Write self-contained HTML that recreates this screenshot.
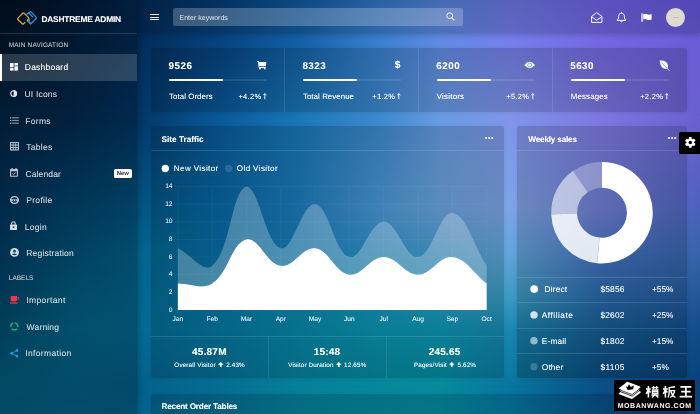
<!DOCTYPE html>
<html lang="en"><head><meta charset="utf-8"><title>Dashtreme Admin</title>
<style>
*{box-sizing:border-box;margin:0;padding:0}
html,body{width:700px;height:414px;overflow:hidden}
body{font-family:"Liberation Sans",sans-serif;color:#fff;position:relative;background:#0a4f85;-webkit-font-smoothing:antialiased;text-rendering:geometricPrecision}
.abs{position:absolute}
.bgl{position:absolute;left:0;top:0;width:700px;height:414px}
.t{position:absolute;white-space:nowrap;line-height:1;text-shadow:0 0 .6px rgba(255,255,255,.45)}
.b{font-weight:bold}
#sidebar{position:absolute;left:0;top:0;width:136.5px;height:414px;background:rgba(0,0,0,.23);box-shadow:0 0 7px rgba(0,0,0,.35)}
#topbar{position:absolute;left:136.5px;top:0;width:563.5px;height:33px;background:rgba(0,0,0,.16);box-shadow:0 2px 5px rgba(0,0,0,.18)}
.card{position:absolute;background:rgba(0,0,0,.155);border-radius:2px;box-shadow:0 1px 4px rgba(0,0,0,.08)}
.hl{position:absolute;height:1px;background:rgba(255,255,255,.12)}
.vl{position:absolute;width:1px;background:rgba(255,255,255,.10)}
.mi{font-size:8.5px;color:rgba(255,255,255,.68);left:26px;letter-spacing:.1px}
.sh{font-size:6.5px;color:rgba(255,255,255,.55);left:8.8px;letter-spacing:.15px}
.ic{position:absolute;overflow:visible}
.num{font-size:9.8px;font-weight:bold;letter-spacing:.52px;margin-left:-.5px}
.lab{font-size:7.8px;letter-spacing:.1px}
.pct{font-size:7.5px;letter-spacing:.3px}
.pb{position:absolute;height:1.8px;width:98px;background:rgba(255,255,255,.1);border-radius:1px}
.pb i{display:block;height:100%;width:55%;background:#fff;border-radius:1px}
.yl{font-size:6.6px;width:20px;left:152.5px;text-align:right;color:rgba(255,255,255,.85)}
.xl{font-size:6.6px;width:40px;text-align:center;top:316.7px;color:rgba(255,255,255,.85)}
.fn{font-size:10px;font-weight:bold;width:118px;text-align:center;letter-spacing:.2px}
.fs{font-size:6.3px;width:118px;text-align:center;letter-spacing:.15px}
.wr{font-size:8.3px;letter-spacing:.15px}
</style></head><body>
<div class="bgl" style="background:linear-gradient(to right,rgb(3,18,35) 0px,rgb(3,26,55) 70px,rgb(3,40,82) 137px,rgb(6,60,115) 220px,rgb(18,88,155) 300px,rgb(52,118,196) 380px,rgb(82,128,214) 440px,rgb(106,118,226) 510px,rgb(110,97,226) 600px,rgb(99,86,216) 700px)"></div>
<div class="bgl" style="background:linear-gradient(to right,rgb(2,25,46) 0px,rgb(3,32,62) 70px,rgb(3,44,88) 137px,rgb(7,67,126) 220px,rgb(21,96,165) 300px,rgb(58,128,206) 380px,rgb(97,138,226) 440px,rgb(117,127,234) 510px,rgb(116,104,226) 600px,rgb(106,92,214) 700px);-webkit-mask-image:linear-gradient(to bottom,transparent 0px,#000 41px);mask-image:linear-gradient(to bottom,transparent 0px,#000 41px)"></div>
<div class="bgl" style="background:linear-gradient(to right,rgb(3,39,72) 0px,rgb(3,44,81) 70px,rgb(2,55,103) 137px,rgb(10,90,154) 220px,rgb(26,120,184) 300px,rgb(62,138,206) 380px,rgb(104,156,226) 440px,rgb(128,150,234) 510px,rgb(126,120,224) 600px,rgb(106,96,207) 700px);-webkit-mask-image:linear-gradient(to bottom,transparent 41px,#000 120px);mask-image:linear-gradient(to bottom,transparent 41px,#000 120px)"></div>
<div class="bgl" style="background:linear-gradient(to right,rgb(3,55,97) 0px,rgb(3,72,115) 70px,rgb(3,86,130) 137px,rgb(8,105,165) 220px,rgb(30,125,190) 300px,rgb(76,154,215) 380px,rgb(108,166,225) 440px,rgb(126,165,230) 510px,rgb(112,128,212) 600px,rgb(75,98,188) 700px);-webkit-mask-image:linear-gradient(to bottom,transparent 120px,#000 210px);mask-image:linear-gradient(to bottom,transparent 120px,#000 210px)"></div>
<div class="bgl" style="background:linear-gradient(to right,rgb(3,65,105) 0px,rgb(3,85,125) 70px,rgb(3,101,143) 137px,rgb(8,112,165) 220px,rgb(22,130,184) 300px,rgb(48,150,203) 380px,rgb(72,160,212) 440px,rgb(98,166,216) 510px,rgb(70,116,192) 600px,rgb(54,100,168) 700px);-webkit-mask-image:linear-gradient(to bottom,transparent 210px,#000 255px);mask-image:linear-gradient(to bottom,transparent 210px,#000 255px)"></div>
<div class="bgl" style="background:linear-gradient(to right,rgb(3,75,112) 0px,rgb(3,98,135) 70px,rgb(4,104,147) 137px,rgb(8,118,165) 220px,rgb(14,135,178) 300px,rgb(25,148,190) 380px,rgb(40,155,195) 440px,rgb(58,154,191) 510px,rgb(40,105,170) 600px,rgb(35,85,150) 700px);-webkit-mask-image:linear-gradient(to bottom,transparent 255px,#000 300px);mask-image:linear-gradient(to bottom,transparent 255px,#000 300px)"></div>
<div class="bgl" style="background:linear-gradient(to right,rgb(3,83,117) 0px,rgb(3,103,140) 70px,rgb(5,106,149) 137px,rgb(6,120,162) 220px,rgb(8,136,168) 300px,rgb(11,150,176) 380px,rgb(12,152,181) 440px,rgb(26,136,176) 510px,rgb(24,96,153) 600px,rgb(18,76,138) 700px);-webkit-mask-image:linear-gradient(to bottom,transparent 300px,#000 330px);mask-image:linear-gradient(to bottom,transparent 300px,#000 330px)"></div>
<div class="bgl" style="background:linear-gradient(to right,rgb(3,96,132) 0px,rgb(3,100,138) 70px,rgb(4,96,138) 137px,rgb(5,110,145) 220px,rgb(6,128,154) 300px,rgb(6,135,156) 380px,rgb(6,138,156) 440px,rgb(8,118,158) 510px,rgb(10,79,133) 600px,rgb(8,66,120) 700px);-webkit-mask-image:linear-gradient(to bottom,transparent 330px,#000 386px);mask-image:linear-gradient(to bottom,transparent 330px,#000 386px)"></div>
<div class="bgl" style="background:linear-gradient(to right,rgb(3,97,133) 0px,rgb(3,101,139) 70px,rgb(4,100,142) 137px,rgb(5,112,147) 220px,rgb(6,130,156) 300px,rgb(6,137,158) 380px,rgb(6,140,158) 440px,rgb(8,122,168) 510px,rgb(10,82,138) 600px,rgb(8,66,120) 700px);-webkit-mask-image:linear-gradient(to bottom,transparent 386px,#000 414px);mask-image:linear-gradient(to bottom,transparent 386px,#000 414px)"></div>
<div id="wrap" style="position:absolute;left:0;top:0;width:700px;height:414px;will-change:transform">
<!-- ================= SIDEBAR ================= -->
<div id="sidebar">
  <div class="hl" style="left:0;top:33px;width:136.5px;background:rgba(255,255,255,.13)"></div>
  <svg class="ic" style="left:16px;top:10.7px" width="22" height="16" viewBox="0 0 22 16"><g fill="none" stroke-width="1.3" stroke-linejoin="round" stroke-linecap="round"><path d="M8.2 2.2 L12.6 6.6 Q13.3 7.3 12.6 8 L11.2 9.4 L14.6 12.8 M8.2 2.2 Q7.5 1.5 6.8 2.2 L1.9 7.1 Q1.2 7.8 1.9 8.5 L6.2 12.8 Q6.9 13.5 7.6 12.8 L9 11.4" stroke="#e0a243"/><path d="M12.4 1.6 L16.8 6 M10 4 L13.6 0.9 Q14.3 0.3 15 1 L20.1 6.1 Q20.8 6.8 20.1 7.5 L15.6 12 Q14.9 12.7 14.2 12 L12.4 10.2 L13.8 8.8" stroke="#2d8fd6"/></g></svg>
  <div class="t b" style="left:41.4px;top:14.95px;font-size:8.4px;letter-spacing:-.2px">DASHTREME ADMIN</div>
  <div class="t sh" style="top:43.05px">MAIN NAVIGATION</div>
  <div class="abs" style="left:0;top:54px;width:136.5px;height:27px;background:rgba(255,255,255,.16);border-left:2.5px solid #fff"></div>
  <div class="t mi" style="top:62.95px;left:24.8px;letter-spacing:0.22px;color:#fff">Dashboard</div>
  <div class="t mi" style="top:89.95px;left:24.4px;letter-spacing:0.21px">UI Icons</div>
  <div class="t mi" style="top:116.95px;left:25.2px;letter-spacing:0.33px">Forms</div>
  <div class="t mi" style="top:142.95px;left:26.3px;letter-spacing:0.29px">Tables</div>
  <div class="t mi" style="top:169.95px;left:25.4px;letter-spacing:0.15px">Calendar</div>
  <div class="t mi" style="top:195.95px;left:26.2px;letter-spacing:0.33px">Profile</div>
  <div class="t mi" style="top:222.95px;left:24.8px;letter-spacing:0.27px">Login</div>
  <div class="t mi" style="top:248.95px;left:26.2px;letter-spacing:0.20px">Registration</div>
  <div class="t sh" style="top:275.95px;letter-spacing:0">LABELS</div>
  <div class="t mi" style="top:296.45px;left:26.2px;letter-spacing:0.40px">Important</div>
  <div class="t mi" style="top:322.95px;left:26.6px;letter-spacing:0.18px">Warning</div>
  <div class="t mi" style="top:348.95px;left:25.2px;letter-spacing:0.35px">Information</div>
  <div class="abs" style="left:114.1px;top:169.1px;width:17.8px;height:9.2px;background:#fff;border-radius:1.6px"></div>
  <div class="t b" style="left:114px;width:17.8px;text-align:center;top:172.2px;font-size:5.9px;color:#2a2d3a;text-shadow:none">New</div>
  <!-- icons -->
  <svg class="ic" style="left:10.4px;top:62.9px" width="8" height="7.6" viewBox="0 0 8 7.6" fill="#fff"><rect x="0" y="0" width="3.6" height="4.3"/><rect x="4.4" y="0" width="3.6" height="2.5"/><rect x="0" y="5.1" width="3.6" height="2.5"/><rect x="4.4" y="3.3" width="3.6" height="4.3"/></svg>
  <svg class="ic" style="left:10.2px;top:90.2px" width="7.2" height="7.2" viewBox="0 0 7.2 7.2"><circle cx="3.6" cy="3.6" r="2.85" fill="none" stroke="#dfe5ec" stroke-width="1.2"/><path d="M3.6 .2 A3.4 3.4 0 0 1 3.6 7 Z" fill="#dfe5ec"/></svg>
  <svg class="ic" style="left:10.2px;top:117px" width="9" height="7" viewBox="0 0 9 7" fill="rgba(255,255,255,.5)"><rect x="0" y=".2" width="1.3" height="1.2" fill="rgba(255,255,255,.7)"/><rect x="2.1" y=".2" width="6.7" height="1.2"/><rect x="0" y="2.9" width="1.3" height="1.2" fill="rgba(255,255,255,.7)"/><rect x="2.1" y="2.9" width="6.7" height="1.2"/><rect x="0" y="5.6" width="1.3" height="1.2" fill="rgba(255,255,255,.7)"/><rect x="2.1" y="5.6" width="6.7" height="1.2"/></svg>
  <svg class="ic" style="left:10.1px;top:142.1px" width="9" height="8.4" viewBox="0 0 9 8.4"><path fill-rule="evenodd" fill="rgba(255,255,255,.7)" d="M0 0H9V8.4H0Z M1.1 1.1V2.5H2.8V1.1Z M3.7 1.1V2.5H5.3V1.1Z M6.2 1.1V2.5H7.9V1.1Z M1.1 3.5V4.9H2.8V3.5Z M3.7 3.5V4.9H5.3V3.5Z M6.2 3.5V4.9H7.9V3.5Z M1.1 5.9V7.3H2.8V5.9Z M3.7 5.9V7.3H5.3V5.9Z M6.2 5.9V7.3H7.9V5.9Z"/></svg>
  <svg class="ic" style="left:10.3px;top:168.2px" width="8" height="8.8" viewBox="0 0 8 8.8"><path fill-rule="evenodd" fill="rgba(255,255,255,.74)" d="M1.4 0H2.6V.9H5.4V0H6.6V.9H7.2Q8 .9 8 1.7V8Q8 8.8 7.2 8.8H.8Q0 8.8 0 8V1.7Q0 .9 .8 .9H1.4Z M1.1 3.3V7.7H6.9V3.3Z"/><path d="M2.3 5.7L3.5 6.7L5.8 4.4" stroke="rgba(255,255,255,.74)" stroke-width=".9" fill="none"/></svg>
  <svg class="ic" style="left:10.1px;top:195.6px" width="9" height="8" viewBox="0 0 9 8"><path fill-rule="evenodd" fill="rgba(255,255,255,.78)" d="M4.5 0C7.2 0 9 1.7 9 4S7.2 8 4.5 8S0 6.3 0 4S1.8 0 4.5 0Z M4.5 1.3C2.6 1.3 1.5 2.2 1.4 3.2H7.6C7.5 2.2 6.4 1.3 4.5 1.3Z M1.5 5.2C1.9 6.1 3 6.7 4.5 6.7S7.1 6.1 7.5 5.2Z"/><circle cx="3.2" cy="4.2" r=".75" fill="#023a5c"/><circle cx="5.8" cy="4.2" r=".75" fill="#023a5c"/></svg>
  <svg class="ic" style="left:10.1px;top:221.3px" width="7" height="9" viewBox="0 0 7 9"><rect x="0" y="3.4" width="7" height="5.6" rx=".7" fill="rgba(255,255,255,.85)"/><path d="M1.7 3.6V2.5A1.8 1.8 0 0 1 5.3 2.5V3.6" stroke="rgba(255,255,255,.85)" stroke-width="1.1" fill="none"/><circle cx="3.5" cy="6.2" r=".85" fill="#02405f"/></svg>
  <svg class="ic" style="left:10.1px;top:248.2px" width="9" height="8.8" viewBox="0 0 9 9" preserveAspectRatio="none"><circle cx="4.5" cy="4.5" r="4.4" fill="rgba(255,255,255,.82)"/><circle cx="4.5" cy="3.2" r="1.35" fill="#024868"/><path d="M1.9 6.4 Q4.5 4.6 7.1 6.4 Q4.5 8.6 1.9 6.4Z" fill="#024868"/></svg>
  <svg class="ic" style="left:10.3px;top:296px" width="8.8" height="7.7" viewBox="0 0 8.8 7.7" fill="#f0364d"><path d="M.7 0H7V.9H8.8V3.5H7V4.1Q7 5.5 5.6 5.5H2.1Q.7 5.5 .7 4.1Z M7 1.6V2.9H8V1.6Z" fill-rule="evenodd"/><rect x="0" y="6.4" width="7.6" height="1.3"/></svg>
  <svg class="ic" style="left:9.9px;top:322.1px" width="8.8" height="8.8" viewBox="0 0 9 9" fill="none" stroke="#14c46c" stroke-width="1.3"><path d="M4.5 .9 A3.6 3.6 0 0 1 8 5.3"/><path d="M7.2 6.9 A3.6 3.6 0 0 1 1.8 6.9"/><path d="M1 5.3 A3.6 3.6 0 0 1 3.3 1.1"/></svg>
  <svg class="ic" style="left:10px;top:349px" width="8.5" height="8.6" viewBox="0 0 8.5 8.6"><path d="M6.9 1.5L1.6 4.3L6.9 7.1" stroke="#2596e2" stroke-width=".9" fill="none"/><circle cx="6.9" cy="1.5" r="1.4" fill="#2596e2"/><circle cx="1.6" cy="4.3" r="1.4" fill="#2596e2"/><circle cx="6.9" cy="7.1" r="1.4" fill="#2596e2"/></svg>
</div>
<!-- ================= TOPBAR ================= -->
<div id="topbar"></div>
<div class="abs" style="left:150px;top:14px;width:8.6px;height:1.1px;background:#fff"></div>
<div class="abs" style="left:150px;top:16.6px;width:8.6px;height:1.1px;background:#fff"></div>
<div class="abs" style="left:150px;top:19.2px;width:8.6px;height:1.1px;background:#fff"></div>
<div class="abs" style="left:173.2px;top:7.6px;width:290px;height:18.2px;background:rgba(255,255,255,.225);border-radius:2px"></div>
<div class="t" style="left:179.6px;top:15.50px;font-size:6.9px;letter-spacing:.05px;color:rgba(255,255,255,.62)">Enter keywords</div>
<svg class="ic" style="left:445.5px;top:12px" width="9" height="9" viewBox="0 0 9 9" fill="none" stroke="rgba(255,255,255,.9)" stroke-width="1"><circle cx="3.7" cy="3.7" r="2.9"/><path d="M5.8 5.8L8.4 8.4" stroke-width="1.2"/></svg>
<svg class="ic" style="left:590.6px;top:12px" width="11.5" height="11" viewBox="0 0 12 11" preserveAspectRatio="none" fill="none" stroke="#fff" stroke-width="1"><path d="M.6 4.4L6 .6L11.4 4.4V10.4H.6Z"/><path d="M.8 4.8L6 8.2L11.2 4.8"/></svg>
<svg class="ic" style="left:616px;top:12px" width="11" height="11" viewBox="0 0 11 11" fill="none" stroke="#fff" stroke-width="1"><path d="M5.5 1.2C3.4 1.2 2.6 2.8 2.6 4.6C2.6 7 1.6 7.8 1 8.4H10C9.4 7.8 8.4 7 8.4 4.6C8.4 2.8 7.6 1.2 5.5 1.2Z"/><path d="M4.5 9.4Q5.5 10.6 6.5 9.4"/><path d="M5.5 .3V1.2"/></svg>
<svg class="ic" style="left:641px;top:12.6px" width="11" height="10" viewBox="0 0 11 10"><rect x=".4" y=".3" width="1.2" height="8.6" fill="#fff"/><path d="M2.2 1.2Q4 .2 6 1.2T10.6 1V6.4Q8 7.4 6 6.4T2.2 6.6Z" fill="#fff"/></svg>
<div class="abs" style="left:666.3px;top:7.7px;width:19px;height:19px;border-radius:50%;background:#dcdad1"></div>
<div class="abs" style="left:673.2px;top:16.9px;width:5.4px;height:.9px;background:#c4c1b8"></div>
<!-- ================= STAT CARD ================= -->
<div class="card" style="left:150.7px;top:47.6px;width:535.9px;height:64.4px"></div>
<div class="vl" style="left:284.2px;top:47.6px;height:64.4px"></div>
<div class="vl" style="left:418px;top:47.6px;height:64.4px"></div>
<div class="vl" style="left:552.2px;top:47.6px;height:64.4px"></div>

<div class="t num" style="left:169px;top:61.65px">9526</div>
<div class="pb" style="left:169px;top:79.2px"><i></i></div>
<div class="t lab" style="left:169px;top:92.80px">Total Orders</div>
<div class="t pct" style="right:433px;top:93.00px">+4.2%<svg width="3.6" height="6.2" viewBox="0 0 3.6 6.2" style="vertical-align:-0.6px;margin-left:2px"><path d="M1.8 6.2V.7M.2 2.3L1.8 .6L3.4 2.3" stroke="#fff" stroke-width=".9" fill="none"/></svg></div>
<svg class="ic" style="left:257.2px;top:60.7px" width="9.5" height="8.3" viewBox="0 0 9.5 8.3" fill="#fff"><path d="M0 0H1.6L2 .9H9.4L8.7 5.2H2.2V5.9H8.6V8.3H6.9V7H3.9V8.3H2.1V6.6H1.6L1.1 .8H0Z"/></svg>

<div class="t num" style="left:302.9px;top:61.65px">8323</div>
<div class="pb" style="left:302.9px;top:79.2px"><i></i></div>
<div class="t lab" style="left:302.9px;top:92.80px">Total Revenue</div>
<div class="t pct" style="right:299.1px;top:93.00px">+1.2%<svg width="3.6" height="6.2" viewBox="0 0 3.6 6.2" style="vertical-align:-0.6px;margin-left:2px"><path d="M1.8 6.2V.7M.2 2.3L1.8 .6L3.4 2.3" stroke="#fff" stroke-width=".9" fill="none"/></svg></div>
<div class="t b" style="right:299.5px;top:61.4px;font-size:10.2px">$</div>

<div class="t num" style="left:436.8px;top:61.65px">6200</div>
<div class="pb" style="left:436.8px;top:79.2px"><i></i></div>
<div class="t lab" style="left:436.8px;top:92.80px;letter-spacing:.25px">Visitors</div>
<div class="t pct" style="right:165.2px;top:93.00px">+5.2%<svg width="3.6" height="6.2" viewBox="0 0 3.6 6.2" style="vertical-align:-0.6px;margin-left:2px"><path d="M1.8 6.2V.7M.2 2.3L1.8 .6L3.4 2.3" stroke="#fff" stroke-width=".9" fill="none"/></svg></div>
<svg class="ic" style="left:523.8px;top:61.4px" width="11.4" height="8" viewBox="0 0 11 8" preserveAspectRatio="none"><path d="M.4 4Q5.5 -2.6 10.6 4Q5.5 10.6 .4 4Z" fill="#fff"/><circle cx="5.5" cy="4" r="1.9" fill="none" stroke="#5a80cc" stroke-width=".7"/></svg>

<div class="t num" style="left:570.7px;top:61.65px">5630</div>
<div class="pb" style="left:570.7px;top:79.2px"><i></i></div>
<div class="t lab" style="left:570.7px;top:92.80px;letter-spacing:.22px">Messages</div>
<div class="t pct" style="right:31.3px;top:93.00px">+2.2%<svg width="3.6" height="6.2" viewBox="0 0 3.6 6.2" style="vertical-align:-0.6px;margin-left:2px"><path d="M1.8 6.2V.7M.2 2.3L1.8 .6L3.4 2.3" stroke="#fff" stroke-width=".9" fill="none"/></svg></div>
<svg class="ic" style="left:658.5px;top:59.5px" width="11" height="11" viewBox="0 0 11 11"><path d="M.6 .6Q7.8 -.2 9 5.4Q9.4 7.6 7.8 8.6Q4.6 9.6 2.6 6.8Q1 4.4 .6 .6Z" fill="#fff"/><path d="M2.4 2.4L10.4 10.6" stroke="#fff" stroke-width=".9" fill="none"/><path d="M2.6 2.6L8.2 8.4" stroke="#6a63c8" stroke-width=".6" fill="none"/></svg>

<!-- ================= CHART CARD ================= -->
<div class="card" style="left:150.7px;top:126px;width:353.2px;height:252px"></div>
<div class="hl" style="left:151px;top:150px;width:353px"></div>
<div class="t b" style="left:161.5px;top:135.6px;font-size:8.2px;letter-spacing:.02px">Site Traffic</div>
<div class="abs" style="left:484.8px;top:136.9px;width:2px;height:2px;border-radius:50%;background:#fff;box-shadow:3.1px 0 0 #fff,6.2px 0 0 #fff"></div>
<svg class="abs" style="left:160px;top:163px" width="76" height="12" viewBox="160 163 76 12"><circle cx="165.3" cy="168.5" r="3.7" fill="#fff"/><circle cx="228.6" cy="168.5" r="3.7" fill="rgba(255,255,255,.13)"/></svg>
<div class="t" style="left:173.8px;top:164.65px;font-size:8.1px;letter-spacing:.37px">New Visitor</div>
<div class="t" style="left:236.8px;top:164.65px;font-size:8.1px;letter-spacing:.37px">Old Visitor</div>
<svg class="abs" style="left:0;top:0" width="700" height="414" viewBox="0 0 700 414"><g stroke="rgba(255,255,255,0.065)" stroke-width="0.6" fill="none"><line x1="177.90" y1="186.5" x2="177.90" y2="312.5" /><line x1="212.20" y1="186.5" x2="212.20" y2="312.5" /><line x1="246.50" y1="186.5" x2="246.50" y2="312.5" /><line x1="280.80" y1="186.5" x2="280.80" y2="312.5" /><line x1="315.10" y1="186.5" x2="315.10" y2="312.5" /><line x1="349.40" y1="186.5" x2="349.40" y2="312.5" /><line x1="383.70" y1="186.5" x2="383.70" y2="312.5" /><line x1="418.00" y1="186.5" x2="418.00" y2="312.5" /><line x1="452.30" y1="186.5" x2="452.30" y2="312.5" /><line x1="486.60" y1="186.5" x2="486.60" y2="312.5" /><line x1="174.5" y1="309.90" x2="486.5" y2="309.90" /><line x1="174.5" y1="292.28" x2="486.5" y2="292.28" /><line x1="174.5" y1="274.66" x2="486.5" y2="274.66" /><line x1="174.5" y1="257.04" x2="486.5" y2="257.04" /><line x1="174.5" y1="239.42" x2="486.5" y2="239.42" /><line x1="174.5" y1="221.80" x2="486.5" y2="221.80" /><line x1="174.5" y1="204.18" x2="486.5" y2="204.18" /><line x1="174.5" y1="186.56" x2="486.5" y2="186.56" /></g><path d="M177.90 248.23 C191.62 255.28 203.73 273.46 212.20 265.85 C231.17 248.79 231.40 190.44 246.50 186.56 C258.84 186.56 265.48 244.30 280.80 248.23 C292.92 251.34 302.21 202.52 315.10 204.18 C329.65 206.05 333.99 253.08 349.40 257.04 C361.43 260.13 369.98 221.80 383.70 221.80 C397.42 221.80 405.15 258.69 418.00 257.04 C432.59 255.17 439.41 211.33 452.30 212.99 C466.85 214.86 472.88 244.71 486.60 265.85 L486.60 309.90 L177.90 309.90 Z" fill="rgba(255,255,255,0.25)"/><path d="M177.90 283.47 C191.62 283.47 201.76 290.18 212.20 283.47 C229.20 272.56 231.05 243.39 246.50 239.42 C258.49 236.34 266.29 263.99 280.80 265.85 C293.73 267.51 302.17 246.57 315.10 248.23 C329.61 250.09 334.89 272.80 349.40 274.66 C362.33 276.32 369.98 257.04 383.70 257.04 C397.42 257.04 404.28 274.66 418.00 274.66 C431.72 274.66 439.37 255.38 452.30 257.04 C466.81 258.90 472.88 272.90 486.60 283.47 L486.60 309.90 L177.90 309.90 Z" fill="#fff"/></svg>
<div class="t yl" style="top:307.50px">0</div><div class="t yl" style="top:289.50px">2</div><div class="t yl" style="top:271.50px">4</div><div class="t yl" style="top:254.50px">6</div><div class="t yl" style="top:236.50px">8</div><div class="t yl" style="top:218.50px">10</div><div class="t yl" style="top:201.50px">12</div><div class="t yl" style="top:183.50px">14</div>
<div class="t xl" style="left:157.90px">Jan</div><div class="t xl" style="left:192.20px">Feb</div><div class="t xl" style="left:226.50px">Mar</div><div class="t xl" style="left:260.80px">Apr</div><div class="t xl" style="left:295.10px">May</div><div class="t xl" style="left:329.40px">Jun</div><div class="t xl" style="left:363.70px">Jul</div><div class="t xl" style="left:398.00px">Aug</div><div class="t xl" style="left:432.30px">Sep</div><div class="t xl" style="left:466.60px">Oct</div>
<div class="hl" style="left:151px;top:336.3px;width:353px"></div>
<div class="vl" style="left:268.2px;top:336.3px;height:41.7px"></div>
<div class="vl" style="left:385.8px;top:336.3px;height:41.7px"></div>
<div class="t fn" style="left:150.4px;top:347.60px">45.87M</div>
<div class="t fs" style="left:150.6px;top:361.85px">Overall Visitor <svg width="5.6" height="5.2" viewBox="0 0 5.6 5.2" style="vertical-align:-.5px;margin:0 .6px"><path d="M2.8 0L5.6 2.7H3.7V5.2H1.9V2.7H0Z" fill="#fff"/></svg> 2.43%</div>
<div class="t fn" style="left:268.1px;top:347.60px">15:48</div>
<div class="t fs" style="left:268.3px;top:361.85px">Visitor Duration <svg width="5.6" height="5.2" viewBox="0 0 5.6 5.2" style="vertical-align:-.5px;margin:0 .6px"><path d="M2.8 0L5.6 2.7H3.7V5.2H1.9V2.7H0Z" fill="#fff"/></svg> 12.65%</div>
<div class="t fn" style="left:385.7px;top:347.60px">245.65</div>
<div class="t fs" style="left:386px;top:361.85px">Pages/Visit <svg width="5.6" height="5.2" viewBox="0 0 5.6 5.2" style="vertical-align:-.5px;margin:0 .6px"><path d="M2.8 0L5.6 2.7H3.7V5.2H1.9V2.7H0Z" fill="#fff"/></svg> 5.62%</div>

<!-- ================= WEEKLY SALES CARD ================= -->
<div class="card" style="left:517.1px;top:126px;width:169.5px;height:252.3px;background:linear-gradient(to bottom,rgba(0,0,0,.15) 0,rgba(0,0,0,.155) 70%,rgba(0,0,0,.22) 100%)"></div>
<div class="hl" style="left:517px;top:150px;width:169.5px"></div>
<div class="t b" style="left:528.3px;top:135.6px;font-size:8.2px;letter-spacing:-.19px">Weekly sales</div>
<div class="abs" style="left:667.8px;top:136.9px;width:2px;height:2px;border-radius:50%;background:#fff;box-shadow:3.1px 0 0 #fff,6.2px 0 0 #fff"></div>
<svg class="abs" style="left:0;top:0" width="700" height="414" viewBox="0 0 700 414"><path d="M602.00 161.90 A50.8 50.8 0 1 1 597.13 263.27 L599.61 237.59 A25 25 0 1 0 602.00 187.70 Z" fill="rgba(255,255,255,1)"/><path d="M597.13 263.27 A50.8 50.8 0 0 1 551.23 214.55 L577.02 213.61 A25 25 0 0 0 599.61 237.59 Z" fill="rgba(255,255,255,0.85)"/><path d="M551.23 214.55 A50.8 50.8 0 0 1 572.86 171.09 L587.66 192.22 A25 25 0 0 0 577.02 213.61 Z" fill="rgba(255,255,255,0.56)"/><path d="M572.86 171.09 A50.8 50.8 0 0 1 602.00 161.90 L602.00 187.70 A25 25 0 0 0 587.66 192.22 Z" fill="rgba(255,255,255,0.27)"/></svg>
<div class="hl" style="left:517px;top:276.5px;width:169.5px"></div>
<div class="hl" style="left:517px;top:302px;width:169.5px"></div>
<div class="hl" style="left:517px;top:327.5px;width:169.5px"></div>
<div class="hl" style="left:517px;top:353px;width:169.5px"></div>

<svg class="abs" style="left:517px;top:276px" width="40" height="104" viewBox="517 276 40 104"><circle cx="534.2" cy="289.1" r="3.85" fill="#fff"/><circle cx="534" cy="314.9" r="3.7" fill="rgba(255,255,255,.8)"/><circle cx="534" cy="340.8" r="3.7" fill="rgba(255,255,255,.55)"/><circle cx="534" cy="366.8" r="3.7" fill="rgba(255,255,255,.2)"/></svg>
<div class="t wr" style="left:544.6px;top:284.8px">Direct</div>
<div class="t wr" style="left:600.6px;top:284.8px">$5856</div>
<div class="t wr" style="left:652px;top:284.8px;letter-spacing:0">+55%</div>

<div class="t wr" style="left:541.8px;top:310.5px;letter-spacing:.5px">Affiliate</div>
<div class="t wr" style="left:600.6px;top:310.5px">$2602</div>
<div class="t wr" style="left:652px;top:310.5px;letter-spacing:0">+25%</div>

<div class="t wr" style="left:541.8px;top:336.5px">E-mail</div>
<div class="t wr" style="left:600.6px;top:336.5px">$1802</div>
<div class="t wr" style="left:652px;top:336.5px;letter-spacing:0">+15%</div>

<div class="t wr" style="left:541.8px;top:363.2px">Other</div>
<div class="t wr" style="left:600.6px;top:363.2px;letter-spacing:.3px">$1105</div>
<div class="t wr" style="left:652px;top:363.2px;letter-spacing:0">+5%</div>

<!-- settings toggle -->
<div class="abs" style="left:679px;top:132px;width:21px;height:21.8px;background:#000;border-radius:1.6px 0 0 1.6px"></div>
<svg class="ic" style="left:684.5px;top:137px" width="10.6" height="10.8" viewBox="-5.3 -5.4 10.6 10.8"><g fill="#fff"><circle r="3.75"/><rect x="-1.45" y="-5.3" width="2.9" height="10.6" rx=".6"/><rect x="-1.45" y="-5.3" width="2.9" height="10.6" rx=".6" transform="rotate(60)"/><rect x="-1.45" y="-5.3" width="2.9" height="10.6" rx=".6" transform="rotate(120)"/></g><circle r="1.75" fill="#000"/></svg>

<!-- ================= BOTTOM CARD ================= -->
<div class="card" style="left:150.7px;top:393.6px;width:535.9px;height:40px"></div>
<div class="t b" style="left:161.5px;top:402.6px;font-size:8.2px;letter-spacing:-.2px">Recent Order Tables</div>

<!-- ================= WATERMARK ================= -->
<div class="abs" style="left:614.2px;top:380.2px;width:81px;height:30.6px;background:#000"></div>
<svg class="ic" style="left:617.5px;top:381.3px" width="23.5" height="18.5" viewBox="0 0 23.5 18.5"><g fill="#fff" stroke="#fff" stroke-width="1.5" stroke-linejoin="round"><path d="M1.5 12.6L9.4 6.6L22 11.2L14 17.2Z"/></g><g fill="#fff" stroke="#000" stroke-width=".8" stroke-linejoin="round"><path d="M.9 10L9.2 3.6L22.6 8.6L14.2 15.2Z"/></g><g fill="#fff" stroke="#fff" stroke-width="1.3" stroke-linejoin="round"><path d="M1.6 7.4L9.3 1.4L21.9 6L14.1 12.2Z"/></g><path d="M.4 8.4L14.1 13.6L23 6.8" fill="none" stroke="#000" stroke-width=".7"/><path d="M7.6 5.1L9.5 6.3L10.9 3.2L12.8 6L15.8 4.5L15.2 8.3L9.6 8.9Z" fill="#000"/></svg>
<svg class="ic" style="left:645.5px;top:386px" width="46" height="11.5" viewBox="0 0 46 11.5" fill="none" stroke="#fff" stroke-width="1.55"><path d="M2.4 0V11.5M0 3H4.8M2.4 3.4L.3 8M2.4 4L4.6 6.6"/><path d="M5.6 1.6H12.4M7.6 0V3M10.6 0V3M6.4 4H11.8V7.4H6.4ZM6.4 5.7H11.8M5.4 9H12.6M9 7.4V9L6 11.5M9.4 9L12.4 11.5" stroke-width="1.3"/><path d="M19.4 0V11.5M17 3H21.8M19.4 3.4L17.3 8M19.4 4L21.4 6.4"/><path d="M29 .8Q26 1.6 23.2 1.6V6Q23.2 9.6 22 11.5M23.4 4.6H28.6Q28 9.2 24 11.5M24.8 5.2Q26 9.6 29.4 11.5" stroke-width="1.4"/><path d="M34.4 .8H45.4M35.2 5.6H44.6M33.6 10.7H46M39.9 1V10.8" stroke-width="1.7"/></svg>
<div class="t b" style="left:617.7px;top:403.15px;font-size:7px;letter-spacing:.57px;color:#fff;text-shadow:none">MOBANWANG.COM</div>
</div>
</body></html>
